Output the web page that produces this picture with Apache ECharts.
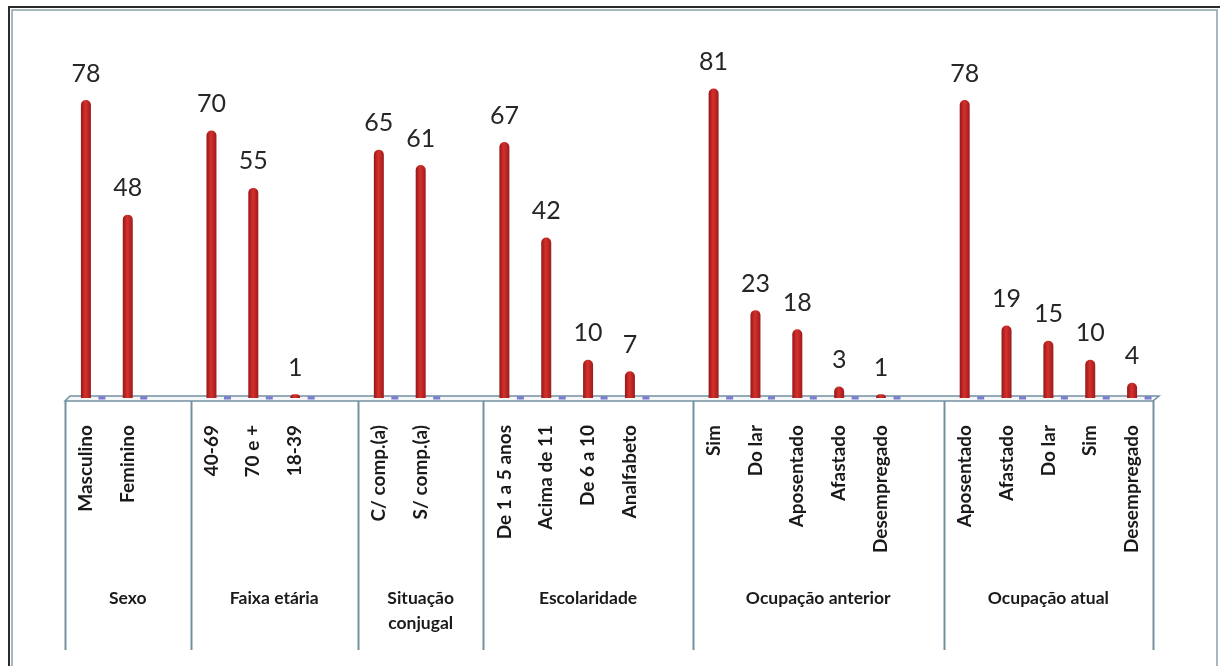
<!DOCTYPE html>
<html>
<head>
<meta charset="utf-8">
<script src="https://cdn.jsdelivr.net/npm/echarts@6/dist/echarts.min.js"></script>
<style>
html,body{margin:0;padding:0;background:#fff;}
#chart{width:1220px;height:666px;}
</style>
</head>
<body>
<div id="chart"></div>
<script>
// ---- Data ----
const groupNames = ['Sexo', 'Faixa etária', 'Situação\nconjugal', 'Escolaridade', 'Ocupação anterior', 'Ocupação atual'];
const groupCategories = [
  ['Masculino', 'Feminino'],
  ['40-69', '70 e +', '18-39'],
  ['C/ comp.(a)', 'S/ comp.(a)'],
  ['De 1 a 5 anos', 'Acima de 11', 'De 6 a 10', 'Analfabeto'],
  ['Sim', 'Do lar', 'Aposentado', 'Afastado', 'Desempregado'],
  ['Aposentado', 'Afastado', 'Do lar', 'Sim', 'Desempregado']
];
const groupValues = [
  [78, 48],
  [70, 55, 1],
  [65, 61],
  [67, 42, 10, 7],
  [81, 23, 18, 3, 1],
  [78, 19, 15, 10, 4]
];
const secondSeriesValue = 0; // second (blue) series is zero everywhere

// ---- Build flat category list (blank slot after each group but the last) ----
const categories = [];
const redValues = [];
const blueValues = [];
const groupSpans = [];
groupCategories.forEach((cats, g) => {
  const start = categories.length;
  cats.forEach((c, i) => {
    categories.push(c);
    redValues.push(groupValues[g][i]);
    blueValues.push(secondSeriesValue);
  });
  if (g < groupCategories.length - 1) {
    categories.push('');
    redValues.push(null);
    blueValues.push(null);
  }
  groupSpans.push([start, categories.length]);
});

const FONT = 'Lato, "Open Sans", sans-serif';
const chart = echarts.init(document.getElementById('chart'), null, {renderer: 'canvas'});

const option = {
  animation: false,
  backgroundColor: '#ffffff',
  grid: {left: 65, right: 67, top: 16, bottom: 268, containLabel: false},
  xAxis: {
    type: 'category',
    data: categories,
    boundaryGap: true,
    axisLine: {show: false},
    axisTick: {show: false},
    splitLine: {show: false},
    axisLabel: {
      interval: 0,
      rotate: 90,
      margin: 27,
      fontFamily: FONT,
      fontWeight: 'bold',
      fontSize: 19,
      color: '#1a1a1a'
    }
  },
  yAxis: {
    type: 'value',
    min: 0,
    max: 100,
    show: false,
    splitLine: {show: false}
  },
  series: [
    {
      type: 'bar',
      name: 'red',
      data: redValues,
      barWidth: 10,
      z: 5,
      itemStyle: {
        borderRadius: [5, 5, 0, 0],
        color: new echarts.graphic.LinearGradient(0, 0, 1, 0, [
          {offset: 0, color: '#931818'},
          {offset: 0.45, color: '#d6302c'},
          {offset: 1, color: '#9c1c1c'}
        ])
      },
      label: {
        show: true,
        position: 'top',
        distance: 14,
        fontFamily: FONT,
        fontSize: 25,
        color: '#262626'
      }
    },
    {
      type: 'scatter',
      name: 'blue',
      data: blueValues,
      symbol: 'rect',
      symbolSize: [7, 3],
      symbolOffset: [16, 0],
      z: 6,
      itemStyle: {color: '#5b5fc7'}
    }
  ]
};
chart.setOption(option);

// ---- Decorations (floor, group separators, group labels, frame) ----
const c0 = chart.convertToPixel({xAxisIndex: 0}, 0);
const c1 = chart.convertToPixel({xAxisIndex: 0}, 1);
const band = c1 - c0;
const xb = b => c0 + (b - 0.5) * band;
const y0 = chart.convertToPixel({yAxisIndex: 0}, 0);
const lineColor = '#7390a2';
const graphics = [];

// floor (thin 3D plate)
const xL = xb(0), xR = xb(categories.length);
graphics.push({
  type: 'polygon', z: 1,
  shape: {points: [[xL, y0 + 3], [xR, y0 + 3], [xR + 6, y0 - 2], [xL + 5, y0 - 2]]},
  style: {fill: '#f4f6f8', stroke: lineColor, lineWidth: 1.5}
});

// separators
const bounds = [0];
groupSpans.forEach(s => bounds.push(s[1]));
bounds.forEach(b => {
  const x = Math.round(xb(b)) + 0.5;
  graphics.push({
    type: 'line', z: 1,
    shape: {x1: x, y1: y0 + 3, x2: x, y2: 650},
    style: {stroke: lineColor, lineWidth: 2}
  });
});

// group labels
groupSpans.forEach((s, g) => {
  const cx = xb((s[0] + s[1]) / 2);
  graphics.push({
    type: 'text', z: 3,
    x: cx, y: 586,
    style: {
      text: groupNames[g],
      fontFamily: FONT, fontWeight: 'bold', fontSize: 17.5,
      fill: '#1a1a1a', align: 'center', verticalAlign: 'top',
      lineHeight: 25
    }
  });
});

// frame
graphics.push({type: 'line', z: 10, shape: {x1: 9, y1: 7, x2: 1220, y2: 7}, style: {stroke: '#2b2b2b', lineWidth: 2}});
graphics.push({type: 'line', z: 10, shape: {x1: 9, y1: 6, x2: 9, y2: 666}, style: {stroke: '#2b2b2b', lineWidth: 2}});
graphics.push({type: 'polyline', z: 10, shape: {points: [[12, 666], [12, 10], [1217, 10], [1217, 666]]}, style: {stroke: '#8aa0ab', lineWidth: 1.5, fill: null}});

chart.setOption({graphic: {elements: graphics}});
</script>
</body>
</html>
